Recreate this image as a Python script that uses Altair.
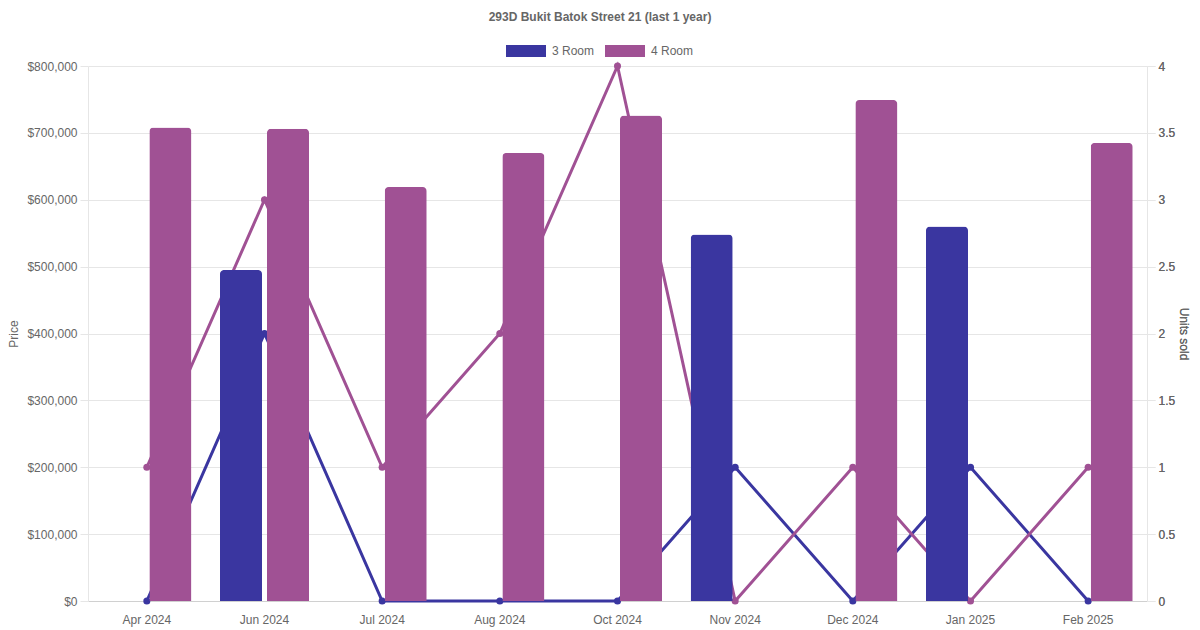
import altair as alt
import pandas as pd

months = ["Apr 2024", "Jun 2024", "Jul 2024", "Aug 2024", "Oct 2024",
          "Nov 2024", "Dec 2024", "Jan 2025", "Feb 2025"]
types = ["3 Room", "4 Room"]
price_3 = [None, 495000, None, None, None, 548000, None, 560000, None]
price_4 = [708000, 706000, 619000, 670000, 726000, None, 749000, None, 685000]
units_3 = [0, 2, 0, 0, 0, 1, 0, 1, 0]
units_4 = [1, 3, 1, 2, 4, 0, 1, 0, 1]
colors = ["#3a36a0", "#a05194"]
price_ticks = [0, 100000, 200000, 300000, 400000, 500000, 600000, 700000, 800000]
unit_ticks = [0, 0.5, 1, 1.5, 2, 2.5, 3, 3.5, 4]

rows = []
for i, m in enumerate(months):
    rows.append({"month": m, "type": types[0], "price": price_3[i], "units": units_3[i]})
    rows.append({"month": m, "type": types[1], "price": price_4[i], "units": units_4[i]})
df = pd.DataFrame(rows)

FONT = "Liberation Sans"
GREY = "#666666"
GRID = "#e6e6e6"

x_enc = alt.X("month:N", sort=months, title=None,
              scale=alt.Scale(paddingInner=0, paddingOuter=0),
              axis=alt.Axis(labelAngle=0, ticks=False, grid=False, domainColor="#d0d0d0",
                            labelPadding=13, labelFont=FONT, labelFontSize=12,
                            labelColor=GREY))
color_scale = alt.Scale(domain=types, range=colors)

y_units = alt.Y("units:Q", title="Units sold",
                scale=alt.Scale(domain=[0, 4], nice=False),
                axis=alt.Axis(orient="right", values=unit_ticks, grid=False, format="~g",
                              tickSize=8, tickColor=GRID, domainColor=GRID,
                              labelPadding=3, labelFont=FONT, labelFontSize=12,
                              labelColor=GREY, titleFont=FONT, titleFontSize=12,
                              titleFontWeight="normal", titleColor=GREY,
                              titleAngle=90, titlePadding=2))

line_layers = []
for t, c in zip(types, colors):
    line_layers.append(
        alt.Chart(df).transform_filter(alt.datum.type == t).mark_line(
            color=c, strokeWidth=3,
            point=alt.OverlayMarkDef(filled=True, size=50, opacity=1, color=c),
        ).encode(x=x_enc, y=y_units)
    )

bars = alt.Chart(df).transform_filter("datum.price != null").mark_bar(
    cornerRadiusTopLeft=4, cornerRadiusTopRight=4
).encode(
    x=x_enc,
    xOffset=alt.XOffset("type:N", scale=alt.Scale(domain=types, paddingInner=0.106,
                                                 paddingOuter=0.304)),
    y=alt.Y("price:Q", title="Price",
            scale=alt.Scale(domain=[0, 800000], nice=False),
            axis=alt.Axis(orient="left", values=price_ticks, format="$,.0f",
                          grid=True, gridColor=GRID, tickSize=8, tickColor=GRID,
                          domainColor=GRID, labelPadding=3, labelFont=FONT,
                          labelFontSize=12, labelColor=GREY, titleFont=FONT,
                          titleFontSize=12, titleFontWeight="normal",
                          titleColor=GREY, titlePadding=6)),
    color=alt.Color("type:N", scale=color_scale, title=None,
                    legend=alt.Legend(orient="none", direction="horizontal",
                                      legendX=418, legendY=-35,
                                      symbolType="M-1,-0.3H1V0.3H-1Z",
                                      symbolSize=1600, symbolStrokeWidth=0,
                                      symbolOpacity=1, labelOffset=6,
                                      columnPadding=10, labelFont=FONT,
                                      labelFontSize=12, labelColor=GREY)),
)

chart = alt.layer(*line_layers, bars).resolve_scale(y="independent").properties(
    width=1059, height=535,
    autosize=alt.AutoSizeParams(type="none"),
    padding={"left": 80, "top": 58, "right": 45, "bottom": 30},
    title=alt.TitleParams("293D Bukit Batok Street 21 (last 1 year)", font=FONT,
                          fontSize=12, fontWeight="bold", color=GREY,
                          anchor="middle", frame="group", dx=-17.5, dy=-3),
).configure_view(stroke=None)

chart.save("out.html", embed_options={"renderer": "svg", "actions": False})
